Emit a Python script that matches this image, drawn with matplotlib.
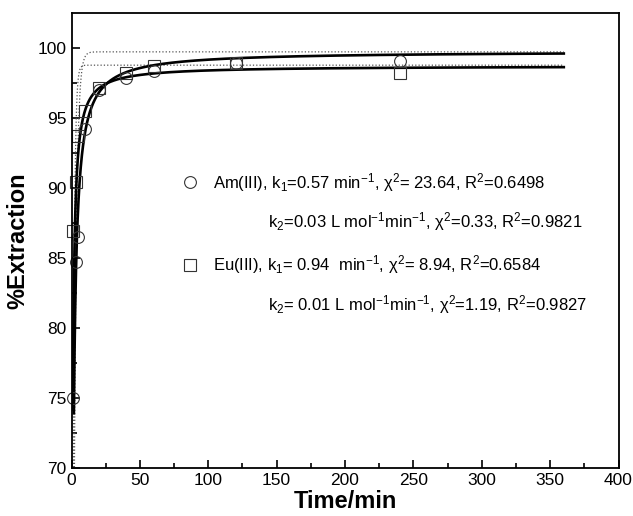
import numpy as np
import matplotlib
matplotlib.use('Agg')
import matplotlib.pyplot as plt

plt.rcParams['font.family'] = ['Liberation Sans', 'DejaVu Sans']
plt.rcParams['mathtext.fontset'] = 'custom'
plt.rcParams['mathtext.rm'] = 'Liberation Sans'
plt.rcParams['mathtext.it'] = 'Liberation Sans:italic'
plt.rcParams['mathtext.default'] = 'regular'

# measured extraction (%)
t_am = [1, 3, 5, 10, 20, 40, 60, 120, 240]
ext_am = [75.0, 84.7, 86.5, 94.2, 97.0, 97.85, 98.3, 98.9, 99.05]
t_eu = [1, 3, 5, 10, 20, 40, 60, 120, 240]
ext_eu = [86.9, 90.4, 93.7, 95.5, 97.1, 98.2, 98.7, 98.9, 98.2]

# pseudo-first-order fits (dotted)
qe1_am, k1_am = 99.7, 0.57
qe1_eu, k1_eu = 98.75, 0.94
# pseudo-second-order fits (solid), k in %^-1 min^-1
qe2_am, k2_am, t0_am = 99.75, 0.0164, 1.75
qe2_eu, k2_eu, t0_eu = 98.7, 0.0307, 1.0
t_end = 360

def pfo(t, qe, k):
    return qe * (1 - np.exp(-k * t))

def pso(t, qe, k):
    return qe * qe * k * t / (1 + qe * k * t)

fig = plt.figure(figsize=(6.33, 5.16), dpi=100)
ax = fig.add_axes([71.5 / 633, 1 - 468.3 / 516, 547 / 633, 455 / 516])

tt = np.linspace(0, t_end, 4000)
ax.plot(tt, pfo(tt, qe1_am, k1_am), ':', color='#555555', lw=0.9)
ax.plot(tt, pfo(tt, qe1_eu, k1_eu), ':', color='#555555', lw=0.9)

ta = np.linspace(t0_am, t_end, 3000)
te = np.linspace(t0_eu, t_end, 3000)
ax.plot(ta, pso(ta, qe2_am, k2_am), '-', color='black', lw=1.9)
ax.plot(te, pso(te, qe2_eu, k2_eu), '-', color='black', lw=1.9)

ax.plot(t_am, ext_am, 'o', ms=8.5, mfc='none', mec='#333333', mew=0.8, clip_on=False)
ax.plot(t_eu, ext_eu, 's', ms=8.0, mfc='none', mec='#333333', mew=0.8, clip_on=False)

# legend-like annotations
ax.plot([86.7], [90.4], 'o', ms=8.5, mfc='none', mec='#333333', mew=0.8)
ax.plot([86.7], [84.5], 's', ms=8.0, mfc='none', mec='#333333', mew=0.8)
fs = 12
ax.text(103.5, 90.4, r'Am(III), k$_1$=0.57 min$^{-1}$, $\chi^2$= 23.64, R$^2$=0.6498',
        fontsize=fs, va='center', ha='left')
ax.text(143.7, 87.6, r'k$_2$=0.03 L mol$^{-1}$min$^{-1}$, $\chi^2$=0.33, R$^2$=0.9821',
        fontsize=fs, va='center', ha='left')
ax.text(103.5, 84.5, r'Eu(III), k$_1$= 0.94  min$^{-1}$, $\chi^2$= 8.94, R$^2$=0.6584',
        fontsize=fs, va='center', ha='left')
ax.text(143.7, 81.7, r'k$_2$= 0.01 L mol$^{-1}$min$^{-1}$, $\chi^2$=1.19, R$^2$=0.9827',
        fontsize=fs, va='center', ha='left')

ax.set_xlim(0, 400)
ax.set_ylim(70, 102.45)
ax.set_xticks(np.arange(0, 401, 50))
ax.set_xticks(np.arange(25, 400, 50), minor=True)
ax.set_yticks(np.arange(70, 101, 5))
ax.set_yticks(np.arange(72.5, 101, 5), minor=True)
ax.tick_params(which='both', direction='in', top=False, right=False, labelsize=12.5, width=1.2)
ax.tick_params(which='major', length=6)
ax.tick_params(which='minor', length=3.5)
for s in ax.spines.values():
    s.set_linewidth(1.3)

ax.set_xlabel('Time/min', fontsize=17, fontweight='bold', labelpad=1)
ax.set_ylabel('%Extraction', fontsize=17, fontweight='bold', labelpad=6)

plt.savefig('out.png', dpi=100)
plt.close()
